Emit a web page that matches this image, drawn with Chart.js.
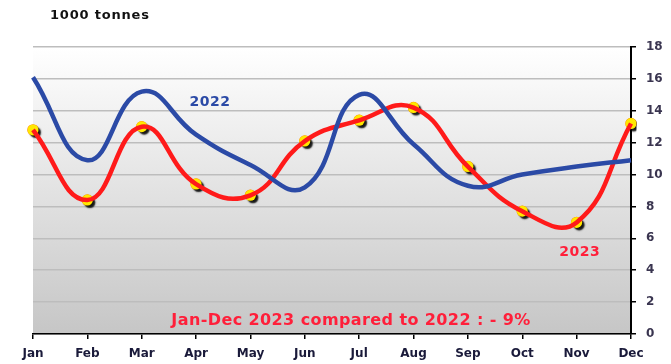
<!DOCTYPE html>
<html>
<head>
<meta charset="utf-8">
<script src="https://cdn.jsdelivr.net/npm/chart.js@4"></script>
<style>
  html, body { margin: 0; padding: 0; background: #fff; }
  canvas { display: block; }
</style>
</head>
<body>
<canvas id="chart" width="671" height="364"></canvas>
<script>
const months = ['Jan', 'Feb', 'Mar', 'Apr', 'May', 'Jun', 'Jul', 'Aug', 'Sep', 'Oct', 'Nov', 'Dec'];
const values2022 = [16.1, 10.9, 15.2, 12.5, 10.6, 9.2, 15.0, 11.9, 9.3, 10.0, 10.5, 10.9];
const values2023 = [12.8, 8.4, 13.0, 9.4, 8.7, 12.1, 13.4, 14.2, 10.5, 7.7, 7.0, 13.2];
const yTicks = [0, 2, 4, 6, 8, 10, 12, 14, 16, 18];

const unitLabel = '1000 tonnes';
const summaryText = 'Jan-Dec 2023 compared to 2022 : - 9%';

const fontFamily = '"DejaVu Sans", sans-serif';

// plot background: white at top fading to grey at bottom
const plotBackground = {
    id: 'plotBackground',
    beforeDraw(chart) {
        const { ctx, chartArea } = chart;
        const g = ctx.createLinearGradient(0, chartArea.top, 0, chartArea.bottom);
        g.addColorStop(0, '#ffffff');
        g.addColorStop(1, '#c6c6c6');
        ctx.save();
        ctx.fillStyle = g;
        ctx.fillRect(chartArea.left, chartArea.top, chartArea.right - chartArea.left, chartArea.bottom - chartArea.top);
        ctx.restore();
    },
};

// dark drop shadow under the 2023 markers (fill only, rim drawn by the next dataset)
const markerShadow = {
    id: 'markerShadow',
    beforeDatasetDraw(chart, args) {
        if (args.index !== 2) return;
        const ctx = chart.ctx;
        ctx.save();
        ctx.shadowColor = 'rgba(0,0,0,0.9)';
        ctx.shadowOffsetX = 2.5;
        ctx.shadowOffsetY = 2.5;
        ctx.shadowBlur = 1.5;
    },
    afterDatasetDraw(chart, args) {
        if (args.index !== 2) return;
        chart.ctx.restore();
    },
};

// text annotations
const chartTexts = {
    id: 'chartTexts',
    afterDraw(chart) {
        const { ctx, scales } = chart;
        const x = scales.x, y = scales.y;
        ctx.save();
        ctx.textBaseline = 'middle';

        ctx.fillStyle = '#111';
        ctx.font = 'bold 13px ' + fontFamily;
        ctx.textAlign = 'left';
        ctx.letterSpacing = '0.8px';
        ctx.fillText(unitLabel, 50, 16);

        ctx.font = 'bold 14px ' + fontFamily;
        ctx.textAlign = 'center';
        ctx.letterSpacing = '0.5px';
        ctx.fillStyle = '#2b4aa6';
        ctx.fillText('2022', (x.getPixelForValue(2) + x.getPixelForValue(3)) / 2 + 41, y.getPixelForValue(14.55));

        ctx.fillStyle = '#ff1f3a';
        ctx.fillText('2023', x.getPixelForValue(10) + 3, y.getPixelForValue(5.1));

        ctx.font = 'bold 16px ' + fontFamily;
        ctx.letterSpacing = '0.4px';
        ctx.fillStyle = '#ff1f3a';
        ctx.fillText(summaryText, (x.left + x.right) / 2 + 19, y.getPixelForValue(0.85));
        ctx.restore();
    },
};

new Chart(document.getElementById('chart'), {
    type: 'line',
    data: {
        labels: months,
        datasets: [
            {
                label: '2022',
                data: values2022,
                borderColor: '#2b4aa6',
                borderWidth: 4.5,
                pointRadius: 0,
                tension: 0.45,
                fill: false,
            },
            {
                label: '2023',
                data: values2023,
                borderColor: '#ff1a1a',
                borderWidth: 4.5,
                pointRadius: 0,
                tension: 0.45,
                fill: false,
            },
            {
                label: '2023 markers',
                data: values2023,
                showLine: false,
                pointRadius: 5.5,
                pointBackgroundColor: '#ffe800',
                pointBorderWidth: 0,
            },
            {
                label: '2023 marker rims',
                data: values2023,
                showLine: false,
                pointRadius: 5,
                pointBackgroundColor: 'rgba(0,0,0,0)',
                pointBorderColor: '#ff8000',
                pointBorderWidth: 1.5,
            },
        ],
    },
    options: {
        responsive: false,
        animation: false,
        layout: { padding: { left: 33, top: 47, right: 0, bottom: 0 } },
        plugins: {
            legend: { display: false },
            tooltip: { enabled: false },
        },
        scales: {
            x: {
                offset: false,
                grid: {
                    drawOnChartArea: false,
                    drawTicks: true,
                    tickLength: 5,
                    tickColor: '#000',
                    lineWidth: 1.5,
                },
                border: { color: '#000', width: 1.5 },
                ticks: {
                    color: '#1a1a3a',
                    font: { family: fontFamily, size: 12, weight: 'bold' },
                    maxRotation: 0,
                    autoSkip: false,
                    padding: 8,
                },
                afterFit(scale) { scale.height = 30; },
            },
            y: {
                position: 'right',
                min: 0,
                max: 18,
                afterBuildTicks(scale) { scale.ticks = yTicks.map(v => ({ value: v })); },
                grid: {
                    color: '#bdbdbd',
                    lineWidth: 1.5,
                    drawTicks: true,
                    tickLength: 5,
                    tickColor: '#000',
                },
                border: { color: '#000', width: 2 },
                ticks: {
                    color: '#3a3550',
                    font: { family: fontFamily, size: 12, weight: 'bold' },
                    padding: 10,
                },
                afterFit(scale) { scale.width = 40; },
            },
        },
    },
    plugins: [plotBackground, markerShadow, chartTexts],
});
</script>
</body>
</html>
